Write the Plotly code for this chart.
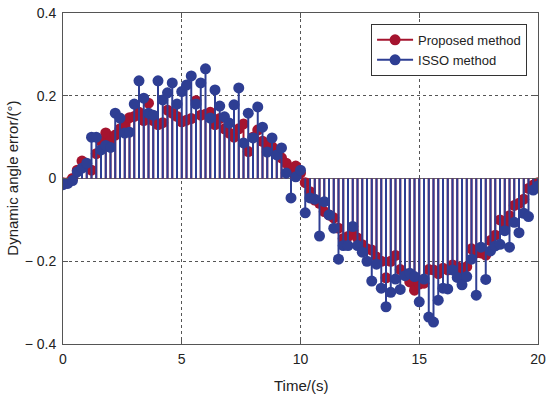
import plotly.graph_objects as go

time_s = [round(0.2 * i, 1) for i in range(101)]

proposed = [
    -0.010, -0.010, 0.000, 0.020, 0.042, 0.030, 0.020, 0.060, 0.090, 0.110,
    0.090, 0.105, 0.120, 0.133, 0.147, 0.150, 0.160, 0.140, 0.182, 0.140,
    0.130, 0.135, 0.165, 0.158, 0.150, 0.137, 0.141, 0.145, 0.188, 0.153,
    0.155, 0.160, 0.130, 0.145, 0.120, 0.110, 0.100, 0.120, 0.132, 0.065,
    0.100, 0.117, 0.090, 0.080, 0.077, 0.060, 0.050, 0.037, 0.025, 0.030,
    0.013, -0.010, -0.032, -0.052, -0.060, -0.080, -0.088, -0.095, -0.120, -0.145,
    -0.140, -0.125, -0.144, -0.160, -0.170, -0.173, -0.190, -0.200, -0.240, -0.200,
    -0.186, -0.220, -0.230, -0.250, -0.270, -0.255, -0.253, -0.220, -0.221, -0.230,
    -0.217, -0.221, -0.209, -0.213, -0.220, -0.213, -0.170, -0.180, -0.180, -0.185,
    -0.150, -0.137, -0.100, -0.108, -0.090, -0.065, -0.060, -0.050, -0.024, -0.016,
    -0.010,
]

isso = [
    -0.015, -0.012, -0.005, 0.016, 0.025, 0.037, 0.100, 0.100, 0.069, 0.080,
    0.075, 0.158, 0.146, 0.110, 0.112, 0.180, 0.236, 0.194, 0.158, 0.153,
    0.236, 0.190, 0.207, 0.231, 0.180, 0.210, 0.226, 0.248, 0.180, 0.231,
    0.265, 0.146, 0.214, 0.175, 0.149, 0.134, 0.178, 0.219, 0.086, 0.158,
    0.098, 0.173, 0.124, 0.064, 0.098, 0.057, 0.074, 0.013, -0.047, 0.004,
    0.020, -0.083, -0.047, -0.050, -0.139, -0.056, -0.088, -0.120, -0.195, -0.162,
    -0.162, -0.116, -0.162, -0.178, -0.200, -0.248, -0.207, -0.265, -0.310, -0.275,
    -0.243, -0.268, -0.235, -0.229, -0.237, -0.298, -0.243, -0.335, -0.347, -0.294,
    -0.265, -0.267, -0.221, -0.239, -0.257, -0.237, -0.195, -0.282, -0.166, -0.244,
    -0.175, -0.163, -0.159, -0.126, -0.166, -0.106, -0.131, -0.084, -0.092, -0.028,
    -0.018,
]

series_names = ["Proposed method", "ISSO method"]
series_colors = ["#A5142F", "#2E3E93"]
x_ticks = [0, 5, 10, 15, 20]
y_ticks = [-0.4, -0.2, 0, 0.2, 0.4]
y_tick_text = ["\u2212 0.4", "\u2212 0.2", "0", "0.2", "0.4"]

fig = go.Figure()

for name, vals, col in zip(series_names, [proposed, isso], series_colors):
    sx, sy = [], []
    for t, v in zip(time_s, vals):
        sx += [t, t, None]
        sy += [0, v, None]
    fig.add_trace(go.Scatter(x=sx, y=sy, mode="lines",
                             line=dict(color=col, width=2),
                             showlegend=False, hoverinfo="skip"))
    fig.add_trace(go.Scatter(x=time_s, y=vals, mode="markers",
                             marker=dict(color=col, size=11, line=dict(width=0)),
                             showlegend=False))
    fig.add_trace(go.Scatter(x=[None], y=[None], mode="lines+markers", name=name,
                             line=dict(color=col, width=2),
                             marker=dict(color=col, size=11)))

font_family = "Liberation Sans, Arial, sans-serif"
axis_common = dict(
    automargin=False,
    showline=True, linecolor="#555555", linewidth=1, mirror="ticks",
    ticks="inside", ticklen=5, tickcolor="#555555",
    showgrid=True, gridcolor="#555555", griddash="dot", gridwidth=1,
    tickfont=dict(size=14, color="#222222", family=font_family),
)

fig.update_layout(
    width=550, height=394,
    margin=dict(l=63, r=12, t=13, b=50, autoexpand=False),
    paper_bgcolor="white", plot_bgcolor="white",
    font=dict(family=font_family, color="#222222"),
    xaxis=dict(range=[0, 20], tickvals=x_ticks, zeroline=False, ticklabelstandoff=2,
               **axis_common),
    yaxis=dict(range=[-0.4, 0.4], tickvals=y_ticks, ticktext=y_tick_text,
               zeroline=True, zerolinecolor="#666666", zerolinewidth=1,
               ticklabelstandoff=3,
               **axis_common),
    legend=dict(x=0.977, y=0.967, xanchor="right", yanchor="top",
                bordercolor="#333333", borderwidth=1, bgcolor="white",
                font=dict(size=13, family=font_family), tracegroupgap=0,
                itemwidth=36),
    showlegend=True,
    annotations=[
        dict(text="Time/(s)", xref="paper", yref="paper", x=0.5, y=-0.093,
             xanchor="center", yanchor="top", showarrow=False,
             font=dict(size=15, family=font_family, color="#222222")),
        dict(text="Dynamic angle error/(°)", xref="paper", yref="paper",
             x=-0.107, y=0.5, xanchor="center", yanchor="middle", textangle=-90,
             showarrow=False,
             font=dict(size=15, family=font_family, color="#222222")),
    ],
)

fig.write_html("out.html", config={"displayModeBar": False},
               post_script="document.body.style.margin='0';document.body.style.overflow='hidden';")
